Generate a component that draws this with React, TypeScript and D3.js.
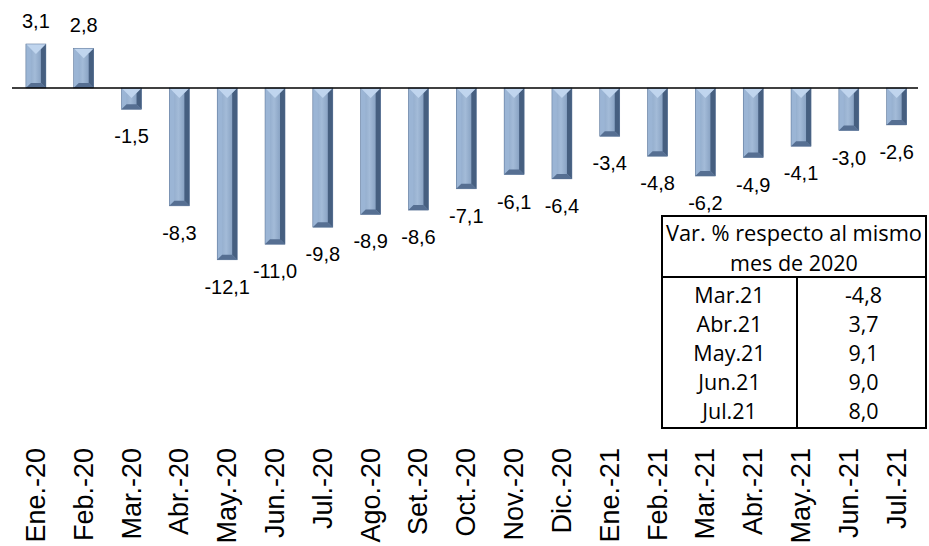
import React from "react";
import * as d3 from "d3";

const categories = ["Ene.-20","Feb.-20","Mar.-20","Abr.-20","May.-20","Jun.-20","Jul.-20","Ago.-20","Set.-20","Oct.-20","Nov.-20","Dic.-20","Ene.-21","Feb.-21","Mar.-21","Abr.-21","May.-21","Jun.-21","Jul.-21"];
const values = [3.1, 2.8, -1.5, -8.3, -12.1, -11.0, -9.8, -8.9, -8.6, -7.1, -6.1, -6.4, -3.4, -4.8, -6.2, -4.9, -4.1, -3.0, -2.6];

const tableHeader = ["Var. % respecto al mismo", "mes de 2020"];
const tableMonths = ["Mar.21", "Abr.21", "May.21", "Jun.21", "Jul.21"];
const tableValues = [-4.8, 3.7, 9.1, 9.0, 8.0];

const W = 929;
const H = 546;

const fmt = (v: number) => v.toFixed(1).replace(".", ",");

export default function App() {
  const x = d3.scaleBand<string>().domain(categories).range([12, 920.6]);
  const y = d3.scaleLinear().domain([-14, 4]).range([88 + 14 * 14.2, 88 - 4 * 14.2]);
  const bw = 20;
  const y0 = y(0);

  const tL = 662, tR = 926, tMid = 797, tTop = 216, tDiv = 277, tBot = 428;
  const rowY = d3.scaleLinear().domain([0, tableMonths.length - 1]).range([295, 411]);

  return (
    <svg width={W} height={H} style={{ position: "absolute", left: 0, top: 0, display: "block" }}>
      <defs>
        <linearGradient id="face" x1="0" x2="1" y1="0" y2="0">
          <stop offset="0" stopColor="#86a2c4" />
          <stop offset="0.45" stopColor="#a3bbd8" />
          <stop offset="1" stopColor="#7590b3" />
        </linearGradient>
      </defs>
      <rect x={0} y={0} width={W} height={H} fill="#fff" />
      {values.map((v, i) => {
        const cx = (x(categories[i]) as number) + x.bandwidth() / 2;
        const x0 = cx - bw / 2;
        const x1 = cx + bw / 2;
        const top = Math.min(y(v), y0);
        const bot = Math.max(y(v), y0);
        const h = bot - top;
        const s = Math.min(5, h / 3);
        const tri = Math.min(10, h / 2);
        return (
          <g key={i}>
            <rect x={x0} y={top} width={bw} height={h} fill="url(#face)" />
            <polygon points={`${x0},${top} ${x0 + s},${top + s} ${x0 + s},${bot - s} ${x0},${bot}`} fill="#9bb5d5" />
            <polygon points={`${x1},${top} ${x1 - s},${top + s} ${x1 - s},${bot - s} ${x1},${bot}`} fill="#465f80" />
            <polygon points={`${x0},${bot} ${x0 + s},${bot - s} ${x1 - s},${bot - s} ${x1},${bot}`} fill="#566f92" />
            <polygon points={`${x0},${top} ${x1},${top} ${x1 - s},${top + s} ${cx},${top + tri} ${x0 + s},${top + s}`} fill="#c0d5ee" />
            <rect x={x0} y={top} width={bw} height={h} fill="none" stroke="#556e91" strokeWidth={0.5} />
          </g>
        );
      })}
      <line x1={12} x2={918} y1={y0} y2={y0} stroke="#000" strokeWidth={1.5} />
      {values.map((v, i) => {
        const cx = (x(categories[i]) as number) + x.bandwidth() / 2;
        const ly = v >= 0 ? y(v) - 16 : y(v) + 34;
        return (
          <text key={i} x={cx} y={ly} textAnchor="middle" fontFamily="'Liberation Sans', Arial, sans-serif" fontSize={20} fill="#000">
            {fmt(v)}
          </text>
        );
      })}
      {categories.map((c, i) => {
        const cx = (x(c) as number) + x.bandwidth() / 2;
        return (
          <text key={c} transform={`translate(${cx + 9},448) rotate(-90)`} textAnchor="end" fontFamily="'Liberation Sans', Arial, sans-serif" fontSize={27} fill="#000">
            {c}
          </text>
        );
      })}
      <g fontFamily="'Open Sans', Lato, sans-serif" fontSize={21.5} fill="#000">
        <rect x={tL} y={tTop} width={tR - tL} height={tBot - tTop} fill="#fff" stroke="#000" strokeWidth={2} />
        <line x1={tL} x2={tR} y1={tDiv} y2={tDiv} stroke="#000" strokeWidth={2} />
        <line x1={tMid} x2={tMid} y1={tDiv} y2={tBot} stroke="#000" strokeWidth={2} />
        <text x={(tL + tR) / 2} y={241} textAnchor="middle" textLength={256} lengthAdjust="spacingAndGlyphs">{tableHeader[0]}</text>
        <text x={(tL + tR) / 2} y={271} textAnchor="middle">{tableHeader[1]}</text>
        {tableMonths.map((m, i) => (
          <g key={m}>
            <text x={(tL + tMid) / 2} y={rowY(i) + 7.5} textAnchor="middle">{m}</text>
            <text x={(tMid + tR) / 2 + 2} y={rowY(i) + 7.5} textAnchor="middle">{fmt(tableValues[i])}</text>
          </g>
        ))}
      </g>
    </svg>
  );
}
